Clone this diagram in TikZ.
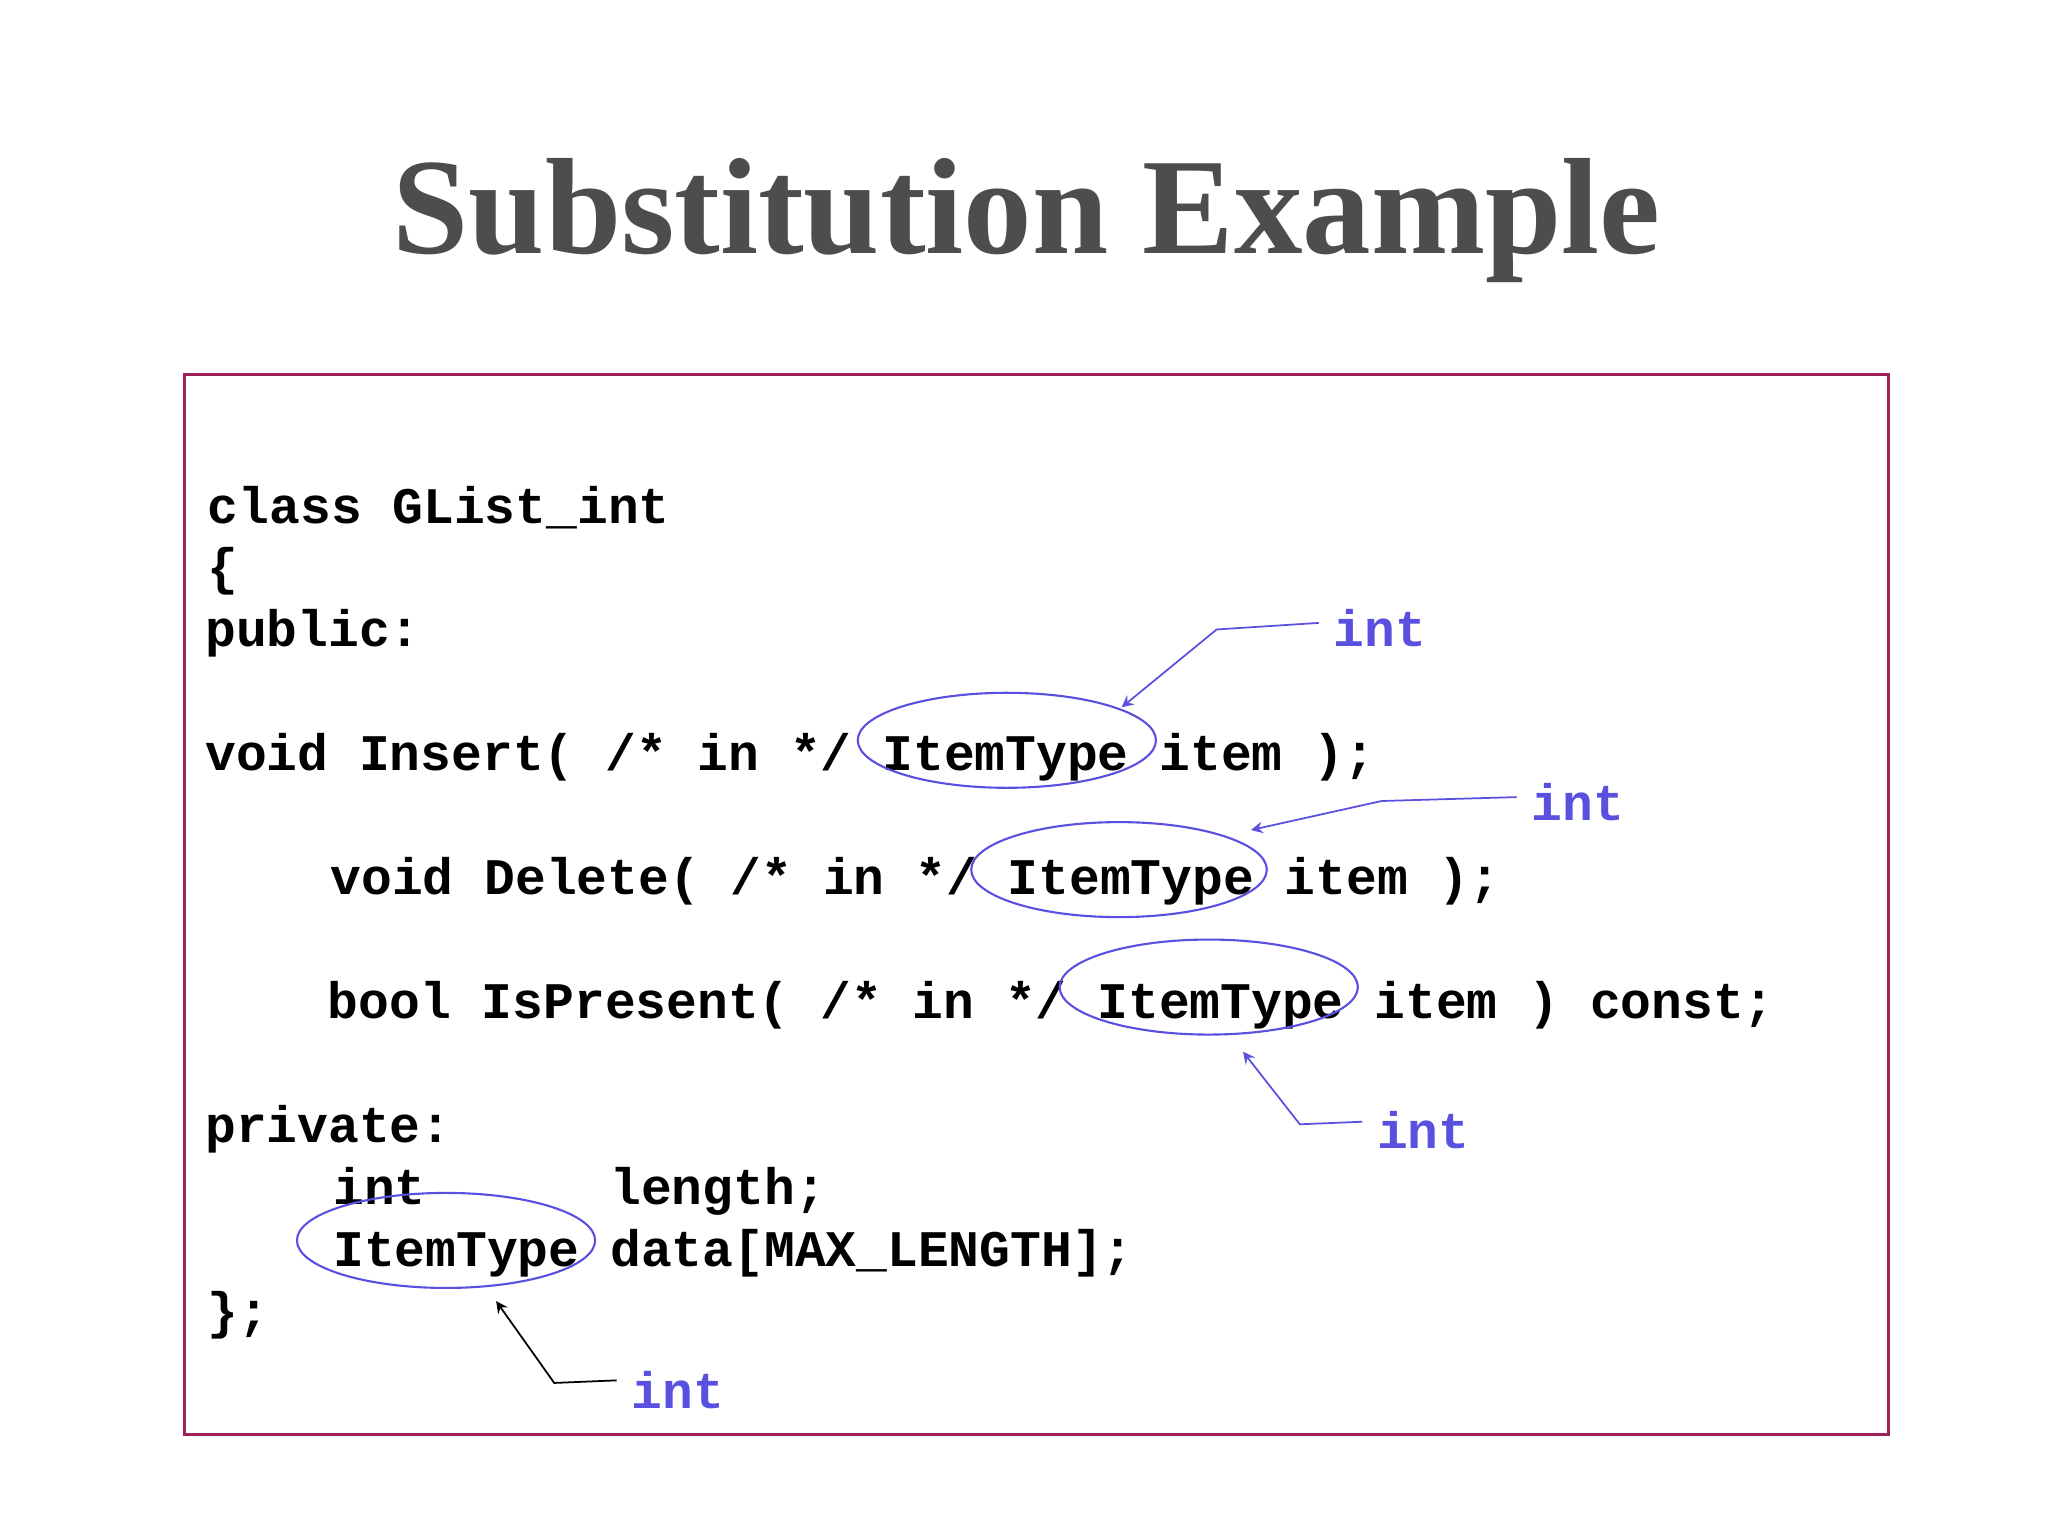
\documentclass[tikz,border=0pt]{standalone}
\usepackage{fontspec}
\setmainfont{Liberation Serif}
\newfontfamily\codefont{Liberation Mono}
\definecolor{boxc}{HTML}{A0205A}
\definecolor{bluec}{HTML}{5A50E0}
\definecolor{titlec}{HTML}{4D4D4D}
\begin{document}
\begin{tikzpicture}[x=0.0132cm,y=-0.0132cm,
  code/.style={anchor=base west,inner sep=0pt,font=\codefont\bfseries\fontsize{14.6pt}{16pt}\selectfont},
  lab/.style={anchor=base west,inner sep=0pt,text=bluec,font=\codefont\bfseries\fontsize{14.6pt}{16pt}\selectfont},
  ell/.style={draw=bluec,line width=0.6pt},
  pt/.style={draw=bluec,line width=0.5pt,-stealth}]
\useasboundingbox (0,0) rectangle (1552,1164);
\node[anchor=base,inner sep=0pt,text=titlec,font=\bfseries\fontsize{39pt}{44pt}\selectfont] (title) at (778,192) {Substitution Example};
\draw[boxc,line width=0.8pt] (140,284) rectangle (1431,1087);
\node[code] (l1) at (157,397) {class GList\_int};
\node[code] (l2) at (157,443) {\{};
\node[code] (l3) at (155,490) {public:};
\node[code] (l4) at (155,584) {void Insert( /* in */ ItemType item );};
\node[code] (l5) at (250,678) {void Delete( /* in */ ItemType item );};
\node[code] (l6) at (248,772) {bool IsPresent( /* in */ ItemType item ) const;};
\node[code] (l7) at (155,866) {private:};
\node[code] (l8) at (252,913) {int};
\node[code] (l8b) at (462,913) {length;};
\node[code] (l9) at (252,960) {ItemType};
\node[code] (l9b) at (462,960) {data[MAX\_LENGTH];};
\node[code] (l10) at (157,1007) {\};};
\draw[ell] (763,561) ellipse [x radius=113,y radius=36];
\draw[ell] (848,659) ellipse [x radius=112,y radius=36];
\draw[ell] (916,748) ellipse [x radius=113,y radius=36];
\draw[ell] (338,940) ellipse [x radius=113,y radius=36];
\node[lab] (i1) at (1010,490) {int};
\node[lab] (i2) at (1160,622) {int};
\node[lab] (i3) at (1043,870) {int};
\node[lab] (i4) at (478,1067) {int};
\coordinate (t1) at (850,536);
\coordinate (t2) at (948,629);
\coordinate (t3) at (942,797);
\coordinate (t4) at (376,986);
\draw[pt] ([xshift=-4pt]i1.west) ++(0,-4) -- (922,477) -- (t1);
\draw[pt] ([xshift=-4pt]i2.west) ++(0,-4) -- (1047,607) -- (t2);
\draw[pt] ([xshift=-4pt]i3.west) ++(0,-6) -- (985,852) -- (t3);
\draw[black,line width=0.5pt,-stealth] ([xshift=-4pt]i4.west) ++(0,-7) -- (420,1048) -- (t4);
\end{tikzpicture}
\end{document}
